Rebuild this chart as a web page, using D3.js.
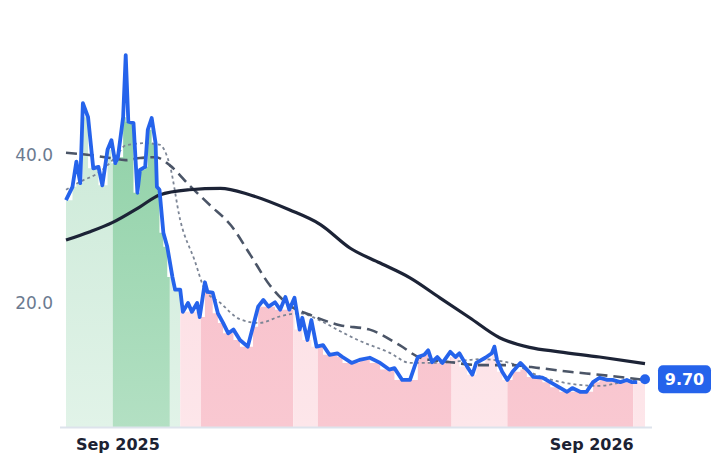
<!DOCTYPE html><html><head><meta charset="utf-8">
<script src="https://cdn.jsdelivr.net/npm/d3@7"></script>
<style>body{margin:0;background:#fff}svg{font-family:"DejaVu Sans",sans-serif}</style></head><body>
<svg id="c" width="718" height="464"></svg>
<script>
const startDate = new Date(2025,6,23);
const priceDays = [0,5,8,11,13,17,21,25,28,32,35,38,40,44,46,48,52,55,57,61,63,66,69,70,72,75,78,82,84,88,90,94,97,101,103,107,109,113,117,121,125,129,134,140,144,148,152,156,161,165,169,172,176,180,182,186,189,193,198,203,209,213,220,226,234,242,249,253,259,265,271,276,279,282,286,290,296,300,303,309,313,316,323,328,330,332,336,340,344,350,355,360,367,373,380,386,390,396,401,406,411,417,421,427,432,436,440,446];
const priceVals = [33.9,35.7,39.1,36.2,47.0,45.1,38.2,38.4,35.9,40.7,42.0,38.9,39.7,45.1,53.5,44.5,44.3,34.9,38.0,38.4,43.4,45.0,41.6,35.7,35.3,29.5,27.6,23.5,21.8,21.8,18.8,20.0,18.8,20.0,18.1,22.8,21.5,21.4,18.6,17.3,15.9,16.4,15.0,14.1,16.8,19.5,20.4,19.5,20.1,19.1,20.8,19.1,20.7,16.4,18.0,15.0,17.7,14.1,14.3,13.0,13.2,12.7,11.9,12.3,12.6,11.9,11.0,11.2,9.6,9.6,12.7,13.0,13.6,12.0,12.7,11.9,13.4,12.7,13.2,11.4,10.3,11.9,12.6,13.2,14.1,12.3,10.7,9.6,10.7,11.9,11.0,10.0,9.9,9.3,8.6,8.0,8.5,8.0,8.0,9.3,9.9,9.6,9.6,9.3,9.6,9.3,9.3,9.7];
const slowDays = [0,18,36,57,72,95,119,142,172,196,219,242,265,288,311,334,357,380,411,446];
const slowVals = [28.5,29.6,30.9,33.0,34.6,35.3,35.5,34.6,32.6,30.6,27.4,25.4,23.4,20.7,18.0,15.3,14.0,13.4,12.7,11.8];
const midDays = [0,18,34,46,57,69,80,95,111,127,142,157,172,188,211,234,257,273,296,319,342,365,388,411,446];
const midVals = [40.3,40.0,39.6,39.3,39.6,39.7,38.6,35.9,33.2,30.5,26.5,22.4,19.7,18.4,17.0,16.4,14.3,12.6,12.0,11.6,11.6,11.2,10.7,10.3,9.6];
const fastDays = [0,11,26,38,46,61,72,80,88,99,107,119,134,149,165,180,196,211,226,249,265,288,319,342,365,388,411,434,446];
const fastVals = [35.3,36.4,37.7,39.7,41.3,41.6,41.4,38.6,31.2,25.8,21.8,20.0,17.8,17.3,18.2,18.6,17.6,16.2,14.9,13.3,11.9,11.9,12.4,11.9,10.1,9.1,8.8,9.5,9.7];
const bandEdges = [0,36,80,88,104,175,194,297,340,437,446];
const bandKinds = ["lg","g","lg","lp","p","lp","p","lp","p","lp"];
const yTicks = [20,40];
const xTickLabels = ["Sep 2025","Sep 2026"];
const xTickDates = [new Date(2025,8,1), new Date(2026,8,1)];

const day = d => d3.timeDay.offset(startDate, d);
const svg = d3.select("#c");
const x = d3.scaleTime().domain([day(0), day(446)]).range([66,645]);
const y = d3.scaleLinear().domain([3.24,60]).range([427,7]);
const price = priceDays.map((d,i)=>({t:day(d), v:priceVals[i]}));
const mk = (ds,vs)=>ds.map((d,i)=>({t:day(d), v:vs[i]}));

const defs = svg.append("defs");
const grads = {lg:["#c4e6d2","#e1f3e8"], g:["#84cc9e","#b3e0c3"], lp:["#fcd6dd","#fde6ea"], p:["#f7bac6","#f9c8d1"]};
Object.entries(grads).forEach(([k,c])=>{
  const g = defs.append("linearGradient").attr("id","g"+k).attr("x1",0).attr("x2",0).attr("y1",0).attr("y2",1);
  g.append("stop").attr("offset","0").attr("stop-color",c[0]);
  g.append("stop").attr("offset","1").attr("stop-color",c[1]);
});
// stepped fill top: local min of price
const low = price.map((p,i)=>({t:p.t, v:Math.min(p.v, (price[i+1]||p).v)}));
defs.append("clipPath").attr("id","fillclip").append("path")
  .attr("d", d3.area().curve(d3.curveStepAfter).x(d=>x(d.t)).y0(427).y1(d=>y(d.v))(low));
const bands = svg.append("g").attr("clip-path","url(#fillclip)");
bandKinds.forEach((k,i)=>{
  bands.append("rect").attr("x",x(day(bandEdges[i]))).attr("width",x(day(bandEdges[i+1]))-x(day(bandEdges[i])))
    .attr("y",7).attr("height",420).attr("fill","url(#g"+k+")");
});

svg.append("line").attr("x1",60).attr("x2",652).attr("y1",427.5).attr("y2",427.5).attr("stroke","#dde3ec").attr("stroke-width",2);

const line = d3.line().x(d=>x(d.t)).y(d=>y(d.v)).curve(d3.curveMonotoneX);
svg.append("path").attr("d",line(mk(fastDays,fastVals))).attr("fill","none").attr("stroke","#7c8595").attr("stroke-width",1.8).attr("stroke-dasharray","3,3");
svg.append("path").attr("d",line(mk(midDays,midVals))).attr("fill","none").attr("stroke","#4b5567").attr("stroke-width",2.6).attr("stroke-dasharray","11,6");
svg.append("path").attr("d",line(mk(slowDays,slowVals))).attr("fill","none").attr("stroke","#1c2336").attr("stroke-width",3.2);
svg.append("path").attr("d",d3.line().x(d=>x(d.t)).y(d=>y(d.v))(price.slice(0,-1))).attr("fill","none").attr("stroke","#2563eb").attr("stroke-width",3.8).attr("stroke-linejoin","round");

const last = price[price.length-1];
svg.append("circle").attr("cx",x(last.t)).attr("cy",y(last.v)).attr("r",5).attr("fill","#2563eb");
svg.append("rect").attr("x",658).attr("y",y(last.v)-14).attr("width",53).attr("height",28).attr("rx",5).attr("fill","#2563eb");
svg.append("text").attr("x",684.5).attr("y",y(last.v)+6).attr("text-anchor","middle").attr("fill","#fff").attr("font-weight","bold").attr("font-size",16).text(last.v.toFixed(2));

svg.selectAll(".yt").data(yTicks).join("text").attr("x",53).attr("y",d=>y(d)+6).attr("text-anchor","end")
  .attr("fill","#6b7a90").attr("font-size",17).text(d=>d.toFixed(1));
svg.selectAll(".xt").data(xTickDates).join("text").attr("x",d=>x(d)).attr("y",450).attr("text-anchor","middle")
  .attr("fill","#1c2233").attr("font-weight","bold").attr("font-size",16).text((d,i)=>xTickLabels[i]);
</script></body></html>
